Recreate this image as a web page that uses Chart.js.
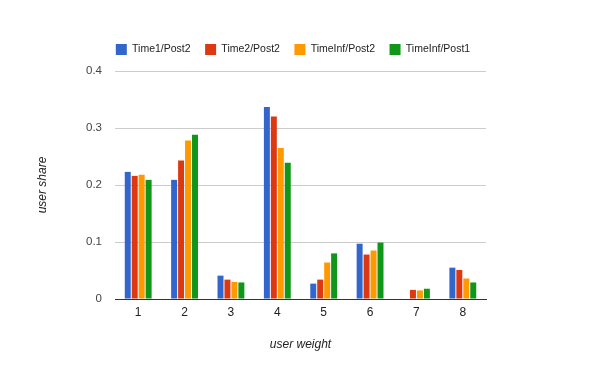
<!DOCTYPE html>
<html>
<head>
<meta charset="utf-8">
<script src="https://cdn.jsdelivr.net/npm/chart.js@4"></script>
<style>
  html, body { margin: 0; padding: 0; background: #fff; }
</style>
</head>
<body>
<canvas id="userChart" width="600" height="371"></canvas>
<script>
const weights = ["1", "2", "3", "4", "5", "6", "7", "8"]
const time1Post2 = [0.223, 0.209, 0.041, 0.337, 0.027, 0.097, 0, 0.055]
const time2Post2 = [0.216, 0.243, 0.034, 0.320, 0.034, 0.078, 0.016, 0.051]
const timeInfPost2 = [0.218, 0.278, 0.030, 0.265, 0.064, 0.085, 0.015, 0.036]
const timeInfPost1 = [0.209, 0.288, 0.029, 0.239, 0.080, 0.099, 0.018, 0.029]

const fontFamily = "'Liberation Sans', Arial, sans-serif"

const makeSet = (label, color, data) => ({
  label: label,
  data: data,
  backgroundColor: color,
  borderWidth: 0,
  categoryPercentage: 0.6,
  barPercentage: 0.86,
})

// nudge the legend to where the original sits
const legendShift = {
  id: "legendShift",
  afterLayout(chart) {
    const lg = chart.legend
    lg.left += 50
    lg.right += 50
    lg.top -= 6
    lg.bottom -= 6
  },
}

const userCtx = document.getElementById("userChart")

const userChart = new Chart(userCtx, {
  type: "bar",
  data: {
    labels: weights,
    datasets: [
      makeSet("Time1/Post2", "#3366cc", time1Post2),
      makeSet("Time2/Post2", "#dc3912", time2Post2),
      makeSet("TimeInf/Post2", "#ff9900", timeInfPost2),
      makeSet("TimeInf/Post1", "#109618", timeInfPost1),
    ],
  },
  options: {
    responsive: false,
    animation: false,
    layout: { padding: { top: 35.5, left: 0, right: 114, bottom: 0 } },
    plugins: {
      tooltip: { enabled: false },
      legend: {
        position: "top",
        labels: {
          boxWidth: 11,
          boxHeight: 11,
          padding: 14.5,
          color: "#222",
          font: { family: fontFamily, size: 10.5 },
        },
      },
    },
    scales: {
      x: {
        grid: { display: false, drawTicks: false },
        border: { display: true, color: "#333", width: 1 },
        ticks: { color: "#222", padding: 6, font: { family: fontFamily, size: 12 } },
        title: {
          display: true,
          text: "user weight",
          color: "#222",
          padding: { top: 0, bottom: 18.8 },
          font: { family: fontFamily, size: 12, style: "italic" },
        },
        afterFit(axis) { axis.height = 72 },
      },
      y: {
        min: 0,
        max: 0.4,
        ticks: { stepSize: 0.1, color: "#444", padding: 13, font: { family: fontFamily, size: 11.5 } },
        grid: {
          drawTicks: false,
          color: (c) => (c.tick && c.tick.value === 0 ? "rgba(0,0,0,0)" : "#ccc"),
        },
        border: { display: false },
        title: {
          display: true,
          text: "user share",
          color: "#222",
          padding: { top: 35.8, bottom: 0 },
          font: { family: fontFamily, size: 12, style: "italic" },
        },
        afterFit(axis) { axis.width = 115 },
      },
    },
  },
  plugins: [legendShift],
})
</script>
</body>
</html>
